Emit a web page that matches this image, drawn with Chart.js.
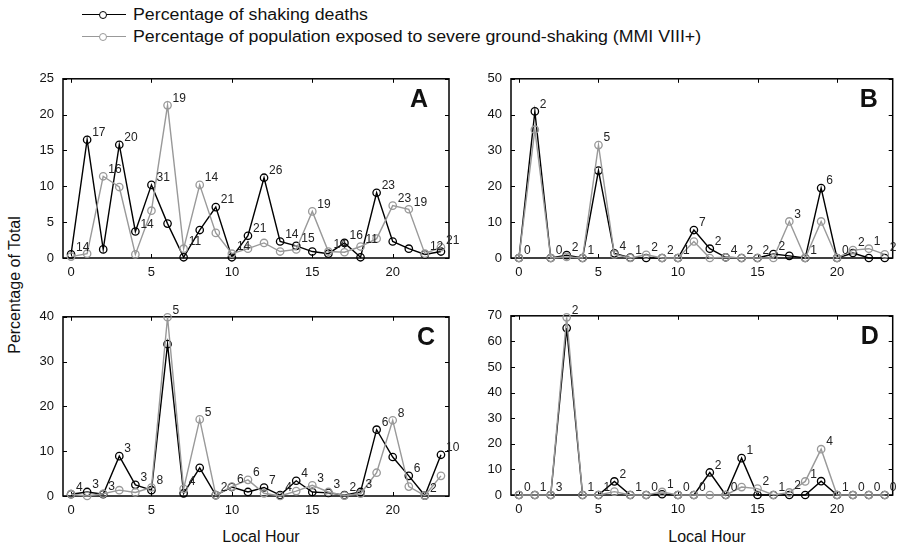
<!DOCTYPE html>
<html><head><meta charset="utf-8">
<script src="https://cdn.jsdelivr.net/npm/chart.js@4.4.0/dist/chart.umd.min.js"></script>
<style>
body{margin:0;background:#fff;}
#wrap{position:relative;width:898px;height:552px;overflow:hidden;background:#fff;font-family:"Liberation Sans",Arial,Helvetica,sans-serif;color:#111;}
canvas{position:absolute;}
.ln{position:absolute;left:82px;width:44px;height:0;}
.cc{position:absolute;left:99px;width:6px;height:6px;border-radius:50%;background:#fff;}
.tx{position:absolute;left:133px;font-size:16px;line-height:18px;white-space:nowrap;transform-origin:0 50%;transform:scaleX(1.11);}
.ax{position:absolute;font-size:16px;line-height:18px;white-space:nowrap;}
</style></head>
<body><div id="wrap">
<div class="ln" style="top:14px;border-top:1.4px solid #000;"></div>
<div class="cc" style="top:11px;border:1.3px solid #000;"></div>
<div class="tx" style="top:6px;">Percentage of shaking deaths</div>
<div class="ln" style="top:36px;border-top:1.4px solid #999;"></div>
<div class="cc" style="top:33px;border:1.3px solid #999;"></div>
<div class="tx" style="top:28px;">Percentage of population exposed to severe ground-shaking (MMI VIII+)</div>
<div class="ax" style="left:15px;top:285px;transform:translate(-50%,-50%) rotate(-90deg);">Percentage of Total</div>
<div class="ax" style="left:261px;top:537px;transform:translate(-50%,-50%);">Local Hour</div>
<div class="ax" style="left:707px;top:537px;transform:translate(-50%,-50%);">Local Hour</div>
<canvas id="cA" width="440" height="222" style="left:20px;top:62px;"></canvas>
<canvas id="cB" width="430" height="222" style="left:468px;top:62px;"></canvas>
<canvas id="cC" width="440" height="222" style="left:20px;top:300px;"></canvas>
<canvas id="cD" width="430" height="222" style="left:468px;top:299px;"></canvas>
</div>
<script>
const hours = [0,1,2,3,4,5,6,7,8,9,10,11,12,13,14,15,16,17,18,19,20,21,22,23];
const xTickVals = [0,5,10,15,20];

const deathsA  = [0.5,16.5,1.2,15.8,3.7,10.2,4.8,0.1,3.9,7.1,0.1,3.1,11.2,2.3,1.7,0.9,0.6,2.1,0.1,9.1,2.3,1.3,0.5,0.9];
const exposedA = [0.2,0.6,11.4,9.9,0.5,6.6,21.3,1.3,10.2,3.5,0.6,1.3,2.1,0.9,1.2,6.5,0.9,0.8,1.6,2.7,7.3,6.8,0.6,1.5];
const countsA  = ["14","17","16","20","14","31","19","11","14","21","14","21","26","14","15","19","14","16","11","23","23","19","12","21"];
const yTicksA  = [0,5,10,15,20,25];

const deathsB  = [0,40.9,0,0.8,0,24.4,1.3,0.1,0,0,0,7.8,2.6,0.2,0,0,1.1,0.6,0,19.5,0,1.4,0,0];
const exposedB = [0,35.8,0,0.3,0,31.5,1.0,0,0.9,0,0,4.6,0,0.2,0,0,0,10.2,0,10.2,0,2.2,2.6,1.0];
const countsB  = ["0","2","0","2","1","5","4","1","2","2","1","7","2","4","2","2","2","3","1","6","0","2","1","2"];
const yTicksB  = [0,10,20,30,40,50];

const deathsC  = [0.4,0.9,0.4,8.9,2.5,1.3,33.9,0.6,6.3,0.2,2.0,0.9,1.9,0.2,3.4,0.9,0.7,0.2,0.9,14.8,8.7,4.5,0.1,9.2];
const exposedC = [0.4,0,0.5,1.3,0.8,1.9,39.9,1.6,17.1,0.2,2.1,3.6,0.6,0,1.1,2.4,0.9,0.1,0.5,5.2,16.9,2.1,0.1,4.5];
const countsC  = ["4","3","3","3","3","8","5","4","5","2","6","6","7","4","4","3","3","2","3","6","8","6","2","10"];
const yTicksC  = [0,10,20,30,40];

const deathsD  = [0,0,0,65.2,0,0,5.3,0,0,0.3,0,0,8.8,0,14.4,0,0,0,0,5.4,0,0,0,0];
const exposedD = [0,0,0,69.4,0,0,1.3,0,0,1.2,0,0,0,0,3.1,2.5,0,1.0,5.3,17.9,0,0,0,0];
const countsD  = ["0","1","3","2","1","1","2","1","0","1","0","0","2","0","1","2","1","2","1","4","1","0","0","0"];
const yTicksD  = [0,10,20,30,40,50,60,70];

const FONT = '"Liberation Sans", Arial, Helvetica, sans-serif';

const deco = {
  id: 'deco',
  beforeDatasetsDraw(chart, args, o) {
    const {ctx, chartArea: a, scales: {x, y}} = chart;
    ctx.save();
    ctx.strokeStyle = '#000';
    ctx.lineWidth = 1.5;
    ctx.strokeRect(a.left, a.top, a.right - a.left, a.bottom - a.top);
    ctx.lineWidth = 1;
    ctx.beginPath();
    x.ticks.forEach(t => {
      const p = Math.round(x.getPixelForValue(t.value)) + 0.5;
      ctx.moveTo(p, a.bottom); ctx.lineTo(p, a.bottom - 4);
      ctx.moveTo(p, a.top); ctx.lineTo(p, a.top + 4);
    });
    y.ticks.forEach(t => {
      const p = Math.round(y.getPixelForValue(t.value)) + 0.5;
      ctx.moveTo(a.left, p); ctx.lineTo(a.left + 4, p);
      ctx.moveTo(a.right, p); ctx.lineTo(a.right - 4, p);
    });
    ctx.stroke();
    ctx.restore();
  },
  afterDatasetsDraw(chart, args, o) {
    const {ctx, chartArea: a, scales: {x, y}} = chart;
    ctx.save();
    ctx.fillStyle = '#111';
    ctx.font = 'bold 25px ' + FONT;
    ctx.textAlign = 'right';
    ctx.textBaseline = 'alphabetic';
    ctx.fillText(o.letter, a.right - o.letterDx, a.top + 28);
    ctx.font = '12px ' + FONT;
    ctx.fillStyle = '#222';
    ctx.textAlign = 'left';
    ctx.textBaseline = 'middle';
    hours.forEach((h, i) => {
      const v = Math.max(o.d1[i], o.d2[i]);
      ctx.fillText(o.counts[i], x.getPixelForValue(h) + 5, y.getPixelForValue(v) - 7);
    });
    ctx.restore();
  }
};

function makeChart(id, deaths, exposed, counts, yTicks, letter, letterDx, padRight) {
  const ymax = yTicks[yTicks.length - 1];
  const mk = (vals) => hours.map((h, i) => ({x: h, y: vals[i]}));
  new Chart(document.getElementById(id), {
    type: 'line',
    data: {
      datasets: [
        {data: mk(deaths), borderColor: '#000', borderWidth: 1.4, pointRadius: 3.7, pointBorderWidth: 1.3,
         pointBorderColor: '#000', pointBackgroundColor: 'rgba(0,0,0,0)', tension: 0, clip: false, order: 2},
        {data: mk(exposed), borderColor: '#999', borderWidth: 1.4, pointRadius: 3.7, pointBorderWidth: 1.3,
         pointBorderColor: '#999', pointBackgroundColor: 'rgba(0,0,0,0)', tension: 0, clip: false, order: 1}
      ]
    },
    options: {
      responsive: false, animation: false, events: [],
      layout: {padding: {top: 10, right: padRight, left: 0, bottom: 0}},
      plugins: {legend: {display: false}, tooltip: {enabled: false},
                deco: {letter, letterDx, counts, d1: deaths, d2: exposed}},
      scales: {
        x: {type: 'linear', min: -0.5, max: 23.5,
            grid: {display: false, drawTicks: false}, border: {display: false},
            afterBuildTicks: s => { s.ticks = xTickVals.map(v => ({value: v})); },
            afterFit: s => { s.height = 26; },
            ticks: {font: {family: FONT, size: 13}, color: '#111', padding: 7, maxRotation: 0, autoSkip: false}},
        y: {type: 'linear', min: 0, max: ymax,
            grid: {display: false, drawTicks: false}, border: {display: false},
            afterBuildTicks: s => { s.ticks = yTicks.map(v => ({value: v})); },
            afterFit: s => { s.width = 43; },
            ticks: {font: {family: FONT, size: 13}, color: '#111', padding: 9, autoSkip: false}}
      }
    },
    plugins: [deco]
  });
}

makeChart('cA', deathsA, exposedA, countsA, yTicksA, 'A', 21, 11);
makeChart('cB', deathsB, exposedB, countsB, yTicksB, 'B', 15, 1);
makeChart('cC', deathsC, exposedC, countsC, yTicksC, 'C', 14, 11);
makeChart('cD', deathsD, exposedD, countsD, yTicksD, 'D', 14, 1);
</script>
</body></html>
